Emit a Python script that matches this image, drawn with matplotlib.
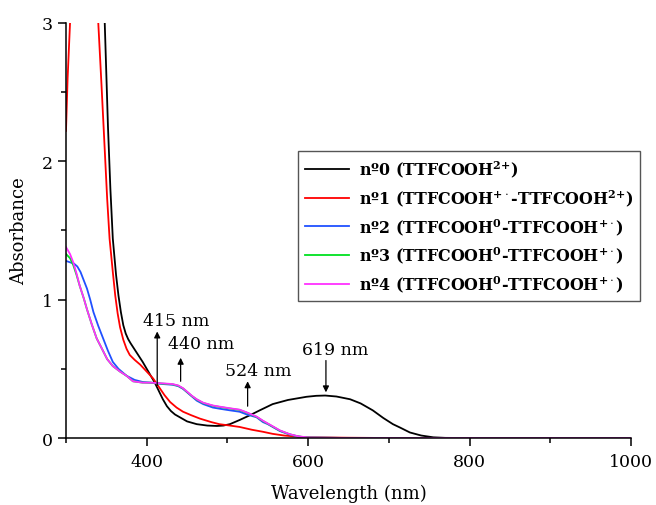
import matplotlib
matplotlib.use("Agg")
import matplotlib.pyplot as plt
from matplotlib.ticker import MultipleLocator

plt.rcParams['font.family'] = 'DejaVu Serif'
plt.rcParams['mathtext.fontset'] = 'dejavuserif'

# spectra (wavelength in nm, absorbance)
wl_0 = [340, 348, 352, 355, 358, 362, 365, 368, 371, 374, 377, 380, 385, 390, 395, 400,
        405, 410, 415, 420, 425, 430, 435, 441, 450, 462, 475, 487, 495, 503, 515, 528,
        540, 556, 575, 598, 610, 621, 635, 652, 665, 680, 693, 705, 714, 726, 740, 755,
        770, 800, 1000]
abs_0 = [3.6, 3.0, 2.25, 1.8, 1.44, 1.18, 1.03, 0.91, 0.815, 0.755, 0.715, 0.685, 0.64,
         0.595, 0.55, 0.50, 0.45, 0.40, 0.34, 0.28, 0.23, 0.195, 0.17, 0.15, 0.12, 0.10,
         0.09, 0.087, 0.09, 0.10, 0.13, 0.165, 0.20, 0.245, 0.275, 0.298, 0.305, 0.307,
         0.30, 0.28, 0.25, 0.20, 0.145, 0.10, 0.075, 0.04, 0.018, 0.005, 0.001, 0.0, 0.0]

wl_1 = [300, 302, 305, 308, 336, 340, 344, 347, 351, 354, 358, 361, 364, 367, 371, 375,
        379, 385, 392, 400, 404, 408, 415, 422, 429, 437, 445, 455, 466, 480, 490, 503,
        515, 530, 544, 556, 570, 586, 600, 650, 700, 1000]
abs_1 = [2.22, 2.6, 3.0, 3.4, 3.4, 3.0, 2.55, 2.2, 1.73, 1.44, 1.2, 1.03, 0.9, 0.8, 0.71,
         0.645, 0.60, 0.565, 0.53, 0.48, 0.455, 0.43, 0.37, 0.31, 0.26, 0.22, 0.19, 0.165,
         0.14, 0.115, 0.10, 0.09, 0.08, 0.06, 0.045, 0.03, 0.018, 0.01, 0.005, 0.002, 0.0,
         0.0]

wl_2 = [300, 305, 310, 314, 318, 322, 326, 330, 334, 340, 346, 352, 358, 365, 375, 385,
        395, 405, 420, 432, 439, 445, 450, 456, 462, 470, 482, 492, 503, 515, 524, 530,
        536, 544, 550, 556, 565, 577, 588, 600, 650, 1000]
abs_2 = [1.28, 1.27, 1.26, 1.24, 1.20, 1.14, 1.08, 1.00, 0.91, 0.81, 0.72, 0.63, 0.55, 0.50,
         0.45, 0.42, 0.405, 0.40, 0.39, 0.385, 0.375, 0.355, 0.33, 0.30, 0.27, 0.245, 0.22,
         0.21, 0.20, 0.19, 0.17, 0.16, 0.15, 0.115, 0.10, 0.08, 0.05, 0.025, 0.01, 0.003,
         0.0, 0.0]

wl_3 = [300, 305, 309, 313, 317, 322, 326, 332, 338, 345, 351, 358, 367, 375, 383, 395,
        405, 420, 432, 439, 445, 450, 456, 462, 470, 482, 492, 503, 515, 524, 530, 536,
        544, 550, 556, 565, 577, 588, 600, 650, 1000]
abs_3 = [1.33, 1.30, 1.25, 1.18, 1.10, 1.01, 0.93, 0.82, 0.72, 0.64, 0.57, 0.52, 0.48, 0.45,
         0.41, 0.40, 0.40, 0.393, 0.388, 0.378, 0.358, 0.333, 0.303, 0.278, 0.253, 0.233,
         0.223, 0.213, 0.203, 0.183, 0.168, 0.153, 0.123, 0.103, 0.083, 0.053, 0.027,
         0.011, 0.004, 0.0, 0.0]

wl_4 = [300, 305, 309, 313, 317, 322, 326, 332, 338, 345, 351, 358, 367, 375, 383, 395,
        405, 420, 432, 439, 445, 450, 456, 462, 470, 482, 492, 503, 515, 524, 530, 536,
        544, 550, 556, 565, 577, 588, 600, 650, 1000]
abs_4 = [1.38, 1.33, 1.27, 1.19, 1.10, 1.01, 0.93, 0.82, 0.72, 0.64, 0.57, 0.52, 0.48, 0.45,
         0.41, 0.40, 0.40, 0.395, 0.39, 0.38, 0.36, 0.335, 0.305, 0.28, 0.255, 0.235, 0.225,
         0.215, 0.205, 0.185, 0.17, 0.155, 0.125, 0.105, 0.085, 0.055, 0.028, 0.012, 0.004,
         0.0, 0.0]

labels = [r'nº0 (TTFCOOH$^{\mathbf{2}{\mathbf{+}}}$)',
          r'nº1 (TTFCOOH$^{{\mathbf{+}}\cdot}$-TTFCOOH$^{\mathbf{2}{\mathbf{+}}}$)',
          r'nº2 (TTFCOOH$^{\mathbf{0}}$-TTFCOOH$^{{\mathbf{+}}\cdot}$)',
          r'nº3 (TTFCOOH$^{\mathbf{0}}$-TTFCOOH$^{{\mathbf{+}}\cdot}$)',
          r'nº4 (TTFCOOH$^{\mathbf{0}}$-TTFCOOH$^{{\mathbf{+}}\cdot}$)']
colors = ['black', '#ff0000', '#2050ff', '#00e020', '#ff30ff']

# peak annotations: label, wavelength, arrow tail, arrow head, text position
peak_labels = ['415 nm', '440 nm', '524 nm', '619 nm']
peak_wl = [413, 442, 525, 622]
arrow_from = [0.38, 0.41, 0.23, 0.56]
arrow_to = [0.77, 0.58, 0.41, 0.33]
text_xy = [(437, 0.85), (468, 0.68), (538, 0.49), (634, 0.64)]

fig = plt.figure(figsize=(6.56, 5.06), dpi=100)
ax = fig.add_axes([0.1006, 0.1324, 0.8614, 0.8202])

series = [(wl_0, abs_0), (wl_1, abs_1), (wl_2, abs_2), (wl_3, abs_3), (wl_4, abs_4)]
for (x, y), c, lab in zip(series, colors, labels):
    ax.plot(x, y, color=c, lw=1.3, label=lab)

for lab, w, y0, y1, (tx, ty) in zip(peak_labels, peak_wl, arrow_from, arrow_to, text_xy):
    ax.annotate('', xy=(w, y1), xytext=(w, y0),
                arrowprops=dict(arrowstyle='-|>', color='black', lw=0.9,
                                mutation_scale=9, shrinkA=0, shrinkB=0))
    ax.text(tx, ty, lab, ha='center', va='center', fontsize=12.5)

ax.set_xlim(300, 1000)
ax.set_ylim(0, 3)
ax.xaxis.set_major_locator(MultipleLocator(200))
ax.xaxis.set_minor_locator(MultipleLocator(100))
ax.yaxis.set_major_locator(MultipleLocator(1))
ax.yaxis.set_minor_locator(MultipleLocator(0.5))
ax.tick_params(which='major', direction='out', length=6, width=1.1, labelsize=12.5)
ax.tick_params(axis='x', which='major', pad=5)
ax.tick_params(which='minor', direction='out', length=3.5, width=1.1)
ax.spines['top'].set_visible(False)
ax.spines['right'].set_visible(False)
for s in ['left', 'bottom']:
    ax.spines[s].set_linewidth(1.1)

ax.set_xlabel('Wavelength (nm)', fontsize=13, labelpad=10)
ax.set_ylabel('Absorbance', fontsize=13, labelpad=10)

leg = ax.legend(loc='upper left', bbox_to_anchor=(0.41, 0.692), fancybox=False,
                framealpha=1, edgecolor='#555555', prop={'weight': 'bold', 'size': 11.4},
                handlelength=2.8, labelspacing=0.5, borderpad=0.45, handletextpad=0.6,
                borderaxespad=0)
leg.get_frame().set_linewidth(1.0)

plt.savefig('out.png', dpi=100)
